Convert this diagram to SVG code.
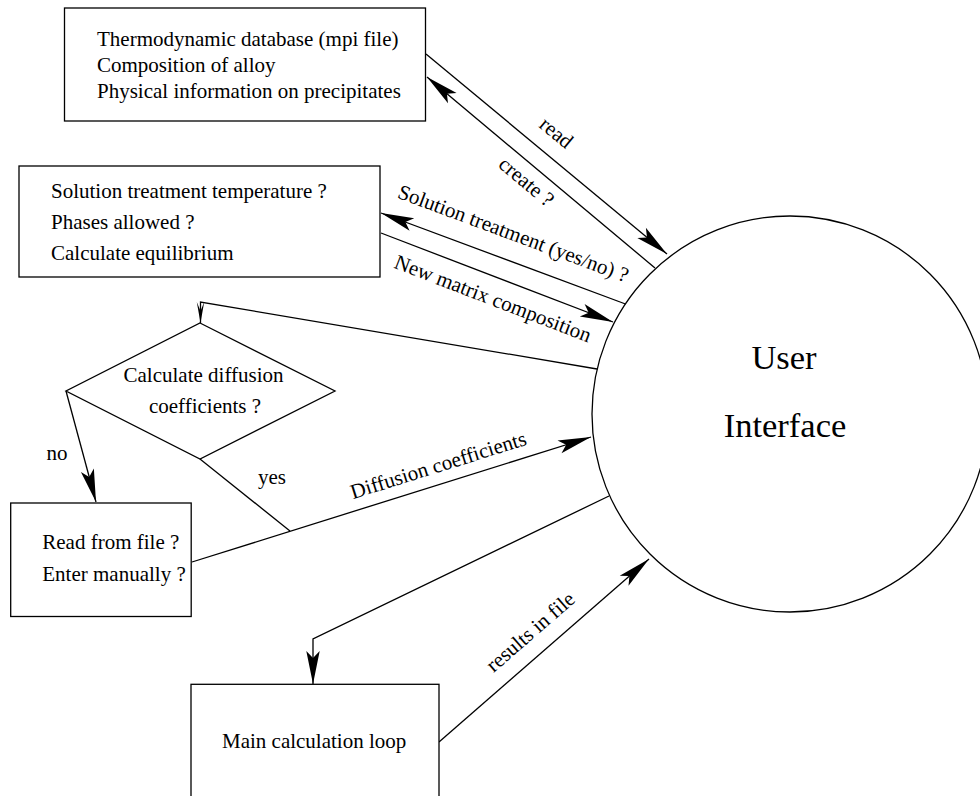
<svg xmlns="http://www.w3.org/2000/svg" width="980" height="796" viewBox="0 0 980 796">
<style>
.box{fill:#fff;stroke:#000;stroke-width:1.3}
.ln{fill:none;stroke:#000;stroke-width:1.3}
text{font-family:"Liberation Serif","Times New Roman",serif;font-size:21px;fill:#000}
.big{font-size:34.5px}
.mid{text-anchor:middle}
</style>
<defs>
<marker id="ah" markerUnits="userSpaceOnUse" viewBox="-34 -8 35 16" markerWidth="35" markerHeight="16" refX="0" refY="0" orient="auto" overflow="visible">
<path d="M0,0 L-33,-6.7 L-26,0 L-33,6.7 Z" fill="#000"/>
</marker>
<marker id="ahs" markerUnits="userSpaceOnUse" viewBox="-23 -5 24 10" markerWidth="24" markerHeight="10" refX="0" refY="0" orient="auto" overflow="visible">
<path d="M0,0 L-21,-3.7 L-12,0 L-21,3.7 Z" fill="#000"/>
</marker>
</defs>
<rect width="980" height="796" fill="#fff"/>
<g id="connectors">
<path class="ln" d="M426,54 L667,254" marker-end="url(#ah)"/>
<path class="ln" d="M655,268 L427,77" marker-end="url(#ah)"/>
<path class="ln" d="M625.5,304 L381,213" marker-end="url(#ah)"/>
<path class="ln" d="M381,233 L613,322" marker-end="url(#ah)"/>
<path class="ln" d="M597,369 L200.5,302 L200.5,323" marker-end="url(#ahs)"/>
<path class="ln" d="M66,391 L96,502" marker-end="url(#ah)"/>
<path class="ln" d="M200,459 L290,531"/>
<path class="ln" d="M192,562 L591,437" marker-end="url(#ah)"/>
<path class="ln" d="M609,496 L313,639 L313,684" marker-end="url(#ah)"/>
<path class="ln" d="M439,742 L649,559" marker-end="url(#ah)"/>
<text class="mid" transform="translate(552,138) rotate(39.7)">read</text>
<text class="mid" transform="translate(522,187) rotate(39.9)">create ?</text>
<text class="mid" transform="translate(511,240) rotate(20.4)">Solution treatment (yes/no) ?</text>
<text class="mid" transform="translate(490.5,305) rotate(21)">New matrix composition</text>
<text class="mid" transform="translate(440.4,471.8) rotate(-17.4)">Diffusion coefficients</text>
<text class="mid" transform="translate(535,637) rotate(-41)">results in file</text>
<text x="46.5" y="460">no</text>
<text x="258" y="484">yes</text>
</g>
<g id="input-box">
<rect class="box" x="64.5" y="8" width="361" height="113"/>
<text x="97" y="46">Thermodynamic database (mpi file)</text>
<text x="97" y="72">Composition of alloy</text>
<text x="97" y="98">Physical information on precipitates</text>
</g>
<g id="solution-box">
<rect class="box" x="19" y="166" width="361" height="111"/>
<text x="51" y="198">Solution treatment temperature ?</text>
<text x="51" y="229">Phases allowed ?</text>
<text x="51" y="260">Calculate equilibrium</text>
</g>
<g id="diffusion-decision">
<polygon class="box" points="200,323 335,391 200,459 66,391"/>
<text class="mid" x="203.5" y="382">Calculate diffusion</text>
<text class="mid" x="205" y="413">coefficients ?</text>
</g>
<g id="read-box">
<rect class="box" x="10.7" y="503" width="180.5" height="113.5"/>
<text x="42.3" y="549">Read from file ?</text>
<text x="42.3" y="581">Enter manually ?</text>
</g>
<g id="main-loop">
<rect class="box" x="191" y="684.3" width="248" height="130"/>
<text x="222" y="748">Main calculation loop</text>
</g>
<g id="user-interface">
<circle class="box" cx="790" cy="414" r="198"/>
<text class="big mid" x="784" y="369">User</text>
<text class="big mid" x="785" y="437">Interface</text>
</g>
</svg>
